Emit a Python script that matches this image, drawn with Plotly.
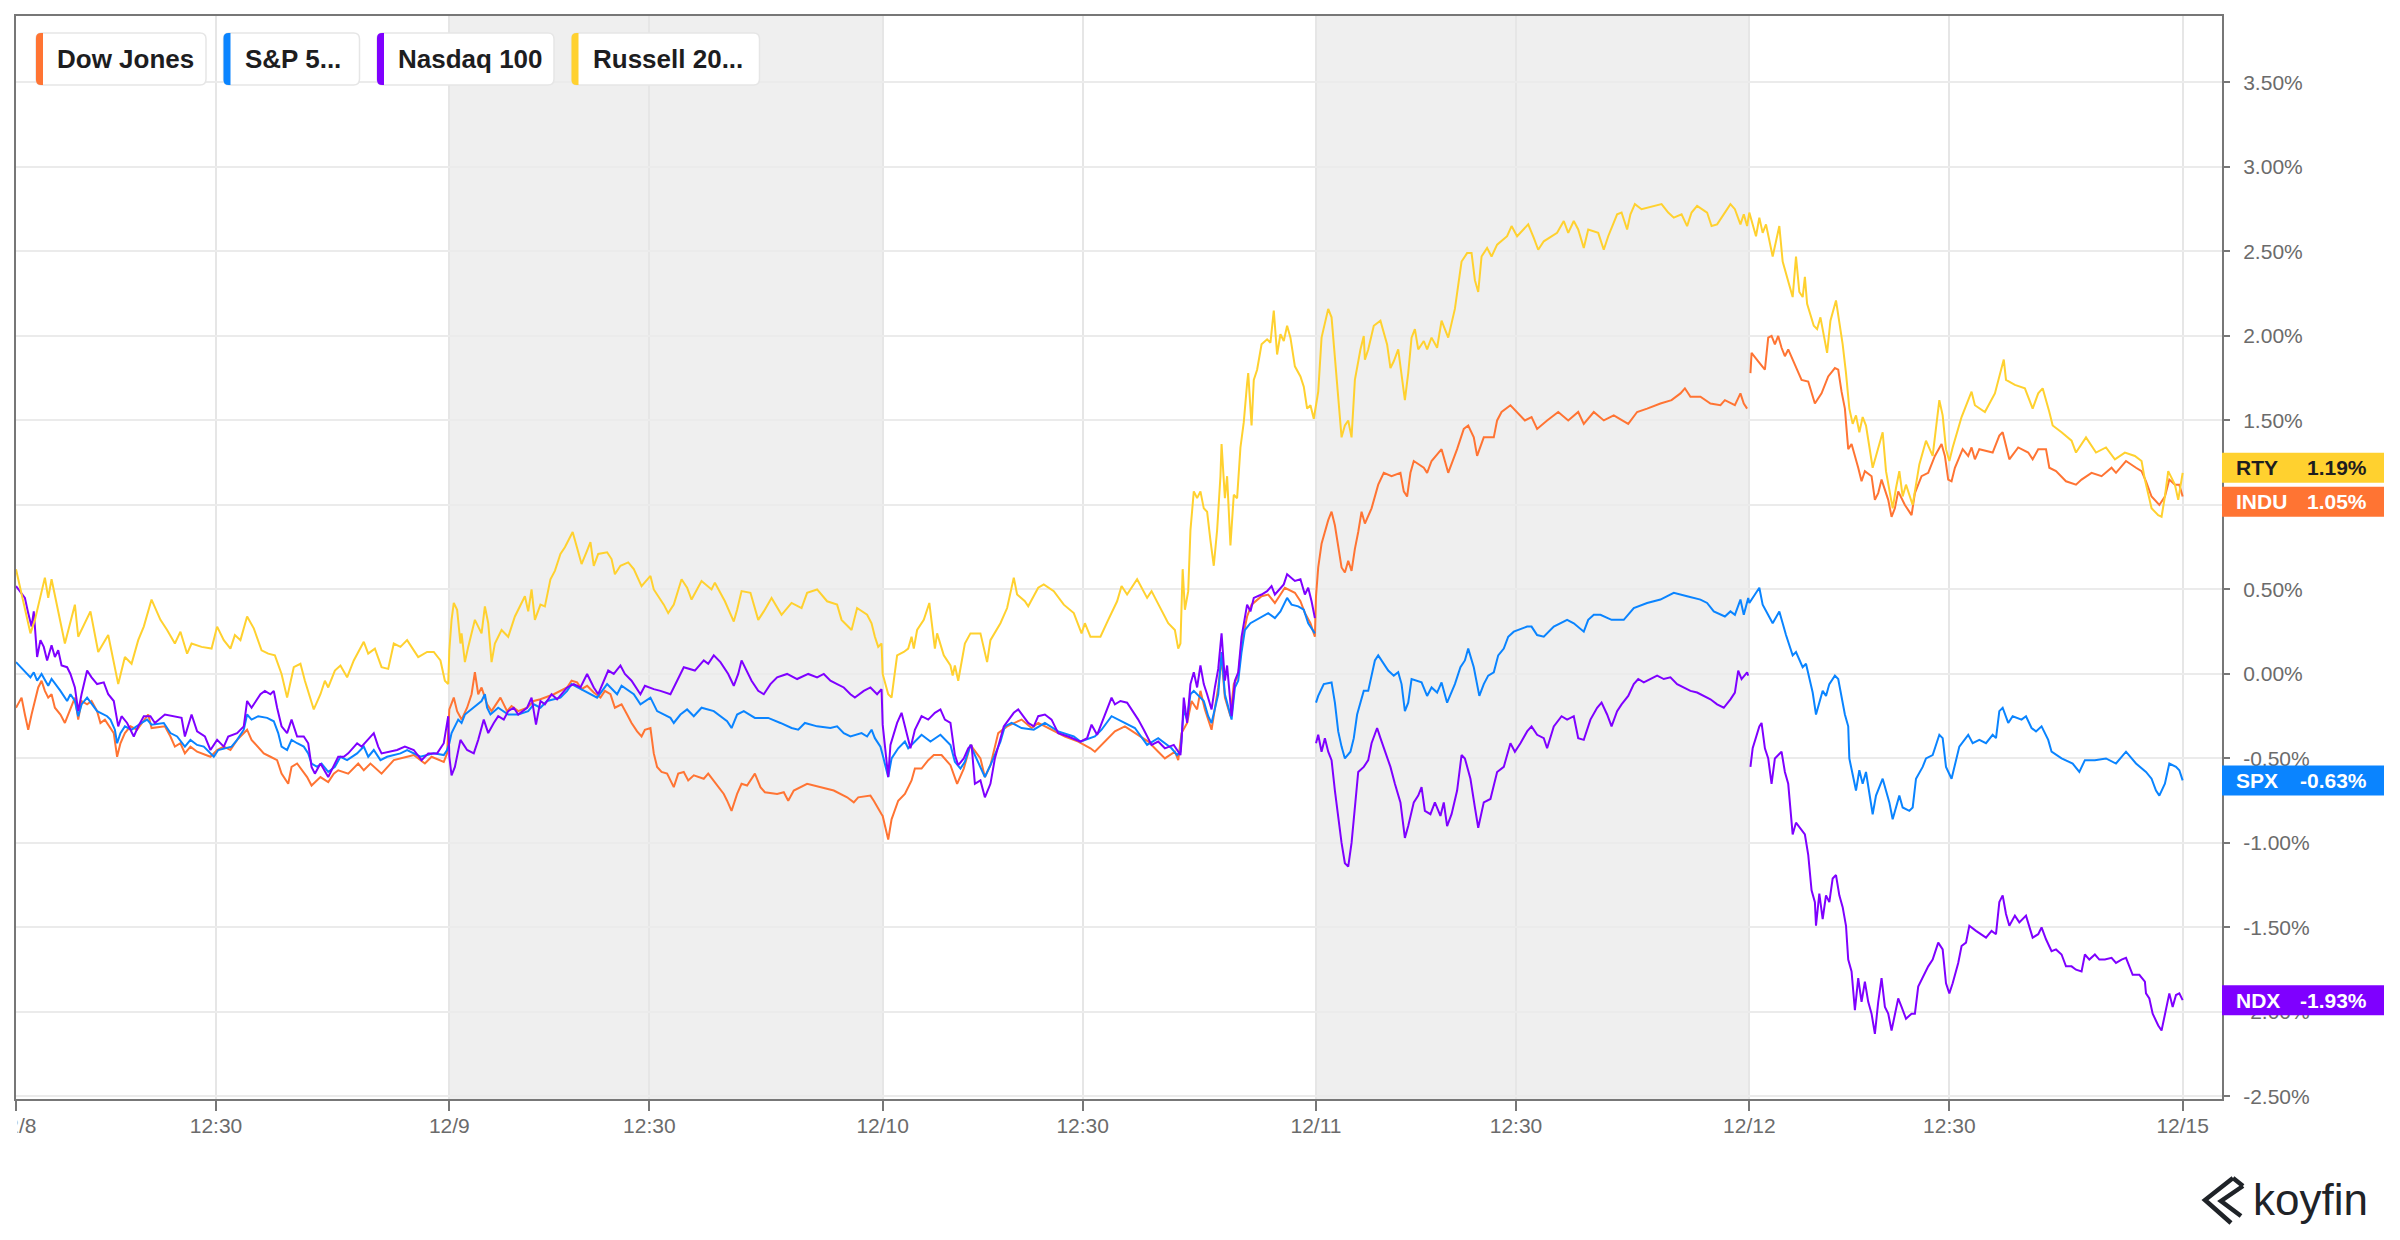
import plotly.graph_objects as go

# ---------------- data ----------------
X_TICK_VALS = [0, 180, 390, 570, 780, 960, 1170, 1350, 1560, 1740, 1950]
X_TICK_TEXT = ["12/8", "12:30", "12/9", "12:30", "12/10", "12:30", "12/11", "12:30", "12/12", "12:30", "12/15"]
Y_TICK_VALS = [-2.5, -2.0, -1.5, -1.0, -0.5, 0.0, 0.5, 1.0, 1.5, 2.0, 2.5, 3.0, 3.5]
Y_TICK_TEXT = ["-2.50%", "-2.00%", "-1.50%", "-1.00%", "-0.50%", "0.00%", "0.50%",
               "1.00%", "1.50%", "2.00%", "2.50%", "3.00%", "3.50%"]
SHADED_SESSIONS = [(390, 780), (1170, 1560)]

SERIES_NAMES = ["Dow Jones", "S&P 500", "Nasdaq 100", "Russell 2000"]
LEGEND_TEXT = ["Dow Jones", "S&P 5...", "Nasdaq 100", "Russell 20..."]
TICKERS = ["INDU", "SPX", "NDX", "RTY"]

# (trading minute since 12/8 09:30, % change); None = gap in data
DOW = [
    (0, -0.20), (5, -0.14), (8, -0.24), (11, -0.33), (14, -0.24), (20, -0.08), (23, -0.04), (26, -0.10),
    (29, -0.14), (32, -0.12), (35, -0.20), (40, -0.24), (44, -0.29), (47, -0.24), (53, -0.14), (56, -0.27),
    (59, -0.16), (64, -0.18), (68, -0.16), (73, -0.22), (76, -0.29), (80, -0.27), (88, -0.35), (91, -0.49),
    (94, -0.41), (98, -0.35), (103, -0.31), (109, -0.33), (119, -0.24), (122, -0.32), (134, -0.31), (139, -0.37),
    (143, -0.43), (148, -0.41), (152, -0.47), (157, -0.43), (163, -0.46), (175, -0.49), (181, -0.45), (187, -0.43),
    (193, -0.45), (199, -0.39), (208, -0.33), (212, -0.39), (223, -0.47), (229, -0.49), (235, -0.51), (239, -0.59),
    (245, -0.65), (248, -0.55), (253, -0.53), (262, -0.61), (266, -0.66), (274, -0.61), (281, -0.64), (286, -0.59),
    (290, -0.57), (299, -0.59), (308, -0.53), (313, -0.57), (319, -0.53), (329, -0.59), (340, -0.51), (352, -0.49),
    (358, -0.48), (368, -0.53), (374, -0.49), (385, -0.52), (388, -0.47),
    (390, -0.21), (394, -0.14), (397, -0.22), (401, -0.27), (406, -0.20), (410, -0.12), (413, 0.01), (416, -0.12),
    (419, -0.08), (424, -0.18), (428, -0.22), (436, -0.14), (442, -0.22), (446, -0.19), (452, -0.22), (460, -0.20),
    (466, -0.16), (472, -0.15), (484, -0.12), (496, -0.08), (500, -0.04), (505, -0.05), (509, -0.09), (514, -0.07),
    (520, -0.11), (526, -0.14), (530, -0.10), (535, -0.12), (539, -0.20), (545, -0.18), (550, -0.24), (554, -0.29),
    (559, -0.34), (563, -0.37), (566, -0.33), (571, -0.32), (574, -0.47), (577, -0.55), (581, -0.58), (586, -0.59),
    (592, -0.67), (596, -0.59), (601, -0.58), (605, -0.63), (610, -0.60), (619, -0.62), (623, -0.59), (632, -0.67),
    (637, -0.71), (640, -0.75), (644, -0.81), (649, -0.71), (653, -0.65), (658, -0.66), (665, -0.59), (670, -0.67),
    (674, -0.70), (685, -0.71), (691, -0.70), (695, -0.75), (700, -0.69), (712, -0.65), (724, -0.67), (736, -0.69),
    (748, -0.73), (754, -0.76), (758, -0.73), (769, -0.72), (772, -0.75), (776, -0.80), (779, -0.83),
    (780, -0.84), (785, -0.98), (788, -0.86), (794, -0.75), (800, -0.71), (806, -0.63), (809, -0.56), (815, -0.56),
    (821, -0.51), (826, -0.48), (833, -0.48), (841, -0.54), (847, -0.65), (853, -0.56), (859, -0.42), (868, -0.50),
    (872, -0.61), (877, -0.54), (884, -0.35), (892, -0.31), (905, -0.27), (914, -0.32), (920, -0.29), (932, -0.33),
    (944, -0.37), (956, -0.40), (967, -0.44), (971, -0.46), (980, -0.40), (989, -0.34), (998, -0.31), (1010, -0.36),
    (1019, -0.40), (1028, -0.46), (1034, -0.50), (1043, -0.46), (1046, -0.51), (1049, -0.35), (1054, -0.29),
    (1058, -0.16), (1063, -0.21), (1066, -0.10), (1070, -0.21), (1076, -0.33), (1079, -0.21), (1082, -0.08),
    (1085, 0.09), (1088, -0.14), (1093, -0.25), (1096, -0.06), (1100, -0.01), (1103, 0.18), (1108, 0.34),
    (1112, 0.41), (1121, 0.46), (1127, 0.47), (1133, 0.42), (1142, 0.51), (1151, 0.48), (1156, 0.43), (1160, 0.36),
    (1165, 0.30), (1169, 0.22),
    (1170, 0.46), (1172, 0.63), (1175, 0.77), (1181, 0.91), (1184, 0.96), (1187, 0.88), (1190, 0.74), (1193, 0.63),
    (1196, 0.60), (1199, 0.67), (1202, 0.61), (1205, 0.74), (1208, 0.84), (1211, 0.96), (1214, 0.89), (1220, 0.98),
    (1226, 1.12), (1231, 1.19), (1238, 1.17), (1246, 1.19), (1249, 1.08), (1252, 1.05), (1255, 1.19), (1258, 1.26),
    (1267, 1.22), (1270, 1.19), (1274, 1.26), (1283, 1.33), (1289, 1.19), (1297, 1.33), (1303, 1.45), (1307, 1.47),
    (1312, 1.40), (1315, 1.29), (1321, 1.40), (1330, 1.40), (1333, 1.50), (1337, 1.55), (1345, 1.59), (1354, 1.53),
    (1358, 1.50), (1364, 1.52), (1369, 1.45), (1378, 1.50), (1388, 1.55), (1397, 1.50), (1406, 1.55), (1411, 1.48),
    (1420, 1.55), (1429, 1.50), (1438, 1.53), (1451, 1.48), (1459, 1.55), (1468, 1.57), (1480, 1.60), (1490, 1.62),
    (1498, 1.66), (1502, 1.69), (1507, 1.64), (1516, 1.64), (1525, 1.60), (1534, 1.59), (1538, 1.62), (1547, 1.59),
    (1552, 1.66), (1555, 1.60), (1558, 1.57),
    (1559, None),
    (1561, 1.78), (1562, 1.90), (1568, 1.85), (1574, 1.80), (1577, 1.99), (1580, 2.00), (1583, 1.95), (1586, 2.00),
    (1589, 1.93), (1592, 1.88), (1595, 1.92), (1601, 1.83), (1607, 1.74), (1613, 1.73), (1619, 1.60), (1625, 1.66),
    (1631, 1.76), (1637, 1.81), (1640, 1.80), (1643, 1.67), (1646, 1.57), (1649, 1.33), (1652, 1.36), (1658, 1.22),
    (1661, 1.14), (1664, 1.20), (1670, 1.17), (1673, 1.03), (1676, 1.07), (1679, 1.15), (1685, 1.03), (1688, 0.93),
    (1691, 0.98), (1694, 1.08), (1700, 1.00), (1706, 0.94), (1709, 1.07), (1715, 1.17), (1721, 1.19), (1727, 1.29),
    (1733, 1.36), (1736, 1.29), (1739, 1.15), (1742, 1.14), (1745, 1.22), (1752, 1.33), (1757, 1.29), (1760, 1.34),
    (1763, 1.27), (1767, 1.33), (1779, 1.31), (1785, 1.41), (1788, 1.43), (1794, 1.27), (1802, 1.34), (1811, 1.31),
    (1815, 1.27), (1820, 1.33), (1827, 1.33), (1830, 1.22), (1836, 1.20), (1845, 1.14), (1854, 1.12), (1859, 1.15),
    (1868, 1.19), (1877, 1.17), (1886, 1.22), (1890, 1.19), (1899, 1.26), (1908, 1.22), (1913, 1.20), (1917, 1.14),
    (1922, 1.05), (1929, 1.00), (1934, 1.05), (1938, 1.15), (1943, 1.12), (1947, 1.12), (1950, 1.05),
]

SPX = [
    (0, 0.07), (7, 0.02), (13, -0.02), (16, 0.01), (19, -0.04), (23, 0.00), (29, -0.07), (32, -0.03), (40, -0.10),
    (46, -0.16), (49, -0.12), (53, -0.16), (56, -0.25), (59, -0.18), (64, -0.14), (73, -0.22), (82, -0.25),
    (85, -0.27), (89, -0.33), (91, -0.41), (94, -0.35), (98, -0.31), (104, -0.33), (113, -0.29), (118, -0.27),
    (122, -0.30), (133, -0.29), (139, -0.35), (145, -0.37), (152, -0.43), (157, -0.39), (163, -0.42), (169, -0.43),
    (178, -0.49), (182, -0.45), (194, -0.43), (199, -0.39), (205, -0.33), (208, -0.24), (212, -0.27), (218, -0.25),
    (226, -0.26), (232, -0.28), (236, -0.35), (239, -0.43), (244, -0.45), (248, -0.39), (253, -0.41), (259, -0.43),
    (263, -0.47), (266, -0.53), (271, -0.55), (275, -0.53), (281, -0.58), (287, -0.55), (292, -0.49), (298, -0.51),
    (307, -0.47), (313, -0.43), (317, -0.49), (322, -0.45), (328, -0.51), (334, -0.49), (346, -0.47), (352, -0.45),
    (364, -0.49), (376, -0.47), (385, -0.48), (388, -0.45),
    (390, -0.41), (392, -0.35), (398, -0.27), (401, -0.29), (404, -0.24), (412, -0.20), (419, -0.16), (422, -0.12),
    (424, -0.20), (427, -0.24), (434, -0.20), (443, -0.24), (452, -0.24), (461, -0.22), (466, -0.18), (472, -0.20),
    (478, -0.16), (490, -0.14), (496, -0.10), (500, -0.06), (509, -0.09), (518, -0.12), (523, -0.14), (532, -0.06),
    (541, -0.12), (545, -0.07), (556, -0.12), (562, -0.18), (571, -0.14), (577, -0.22), (589, -0.26), (592, -0.29),
    (598, -0.24), (604, -0.21), (610, -0.25), (617, -0.20), (628, -0.22), (640, -0.28), (644, -0.32), (649, -0.24),
    (655, -0.22), (665, -0.26), (677, -0.26), (688, -0.29), (698, -0.32), (704, -0.33), (710, -0.29), (721, -0.31),
    (733, -0.32), (739, -0.31), (745, -0.35), (751, -0.37), (761, -0.35), (766, -0.37), (770, -0.33), (773, -0.38),
    (778, -0.43),
    (780, -0.48), (785, -0.61), (788, -0.50), (794, -0.44), (800, -0.40), (803, -0.44), (815, -0.36), (823, -0.40),
    (832, -0.36), (841, -0.42), (845, -0.52), (850, -0.56), (854, -0.52), (859, -0.42), (863, -0.48), (872, -0.61),
    (877, -0.54), (886, -0.40), (890, -0.31), (896, -0.29), (905, -0.32), (916, -0.33), (926, -0.29), (938, -0.34),
    (952, -0.37), (958, -0.40), (971, -0.37), (977, -0.33), (986, -0.25), (995, -0.28), (1007, -0.32), (1018, -0.42),
    (1028, -0.38), (1040, -0.44), (1045, -0.48), (1048, -0.46), (1051, -0.21), (1054, -0.27), (1057, -0.12),
    (1060, -0.10), (1069, -0.16), (1073, -0.25), (1076, -0.29), (1082, -0.12), (1085, 0.13), (1088, -0.12),
    (1094, -0.27), (1097, -0.08), (1100, -0.04), (1103, 0.13), (1106, 0.26), (1111, 0.30), (1121, 0.34), (1127, 0.36),
    (1133, 0.33), (1138, 0.37), (1144, 0.45), (1148, 0.41), (1154, 0.40), (1159, 0.38), (1163, 0.30), (1169, 0.24),
    (1169.5, None),
    (1170, -0.17), (1172, -0.13), (1177, -0.06), (1184, -0.05), (1187, -0.17), (1190, -0.34), (1193, -0.43),
    (1196, -0.50), (1201, -0.46), (1204, -0.38), (1207, -0.24), (1213, -0.10), (1217, -0.10), (1220, -0.01),
    (1223, 0.08), (1226, 0.11), (1231, 0.06), (1235, 0.02), (1240, -0.01), (1244, 0.01), (1247, -0.06), (1250, -0.22),
    (1253, -0.17), (1256, -0.03), (1265, -0.05), (1270, -0.13), (1274, -0.08), (1279, -0.11), (1283, -0.05),
    (1288, -0.17), (1295, -0.06), (1300, 0.04), (1304, 0.08), (1307, 0.15), (1312, 0.04), (1317, -0.13),
    (1321, -0.06), (1325, -0.01), (1330, 0.01), (1334, 0.11), (1339, 0.15), (1343, 0.22), (1348, 0.25), (1360, 0.28),
    (1364, 0.28), (1369, 0.23), (1375, 0.22), (1384, 0.28), (1396, 0.32), (1402, 0.30), (1411, 0.25), (1415, 0.32),
    (1420, 0.35), (1426, 0.35), (1436, 0.32), (1447, 0.32), (1456, 0.39), (1468, 0.42), (1480, 0.44), (1492, 0.48),
    (1504, 0.46), (1516, 0.44), (1522, 0.42), (1528, 0.37), (1538, 0.34), (1543, 0.37), (1547, 0.35), (1552, 0.44),
    (1555, 0.35), (1559, 0.45),
    (1560, 0.42), (1566, 0.48), (1569, 0.51), (1572, 0.41), (1578, 0.34), (1581, 0.30), (1587, 0.37), (1593, 0.23),
    (1599, 0.11), (1602, 0.13), (1608, 0.04), (1611, 0.06), (1617, -0.11), (1620, -0.24), (1626, -0.10),
    (1629, -0.13), (1632, -0.06), (1637, -0.01), (1640, -0.03), (1646, -0.24), (1649, -0.31), (1650, -0.50),
    (1656, -0.69), (1659, -0.57), (1662, -0.65), (1665, -0.58), (1671, -0.83), (1674, -0.72), (1680, -0.62),
    (1686, -0.76), (1689, -0.86), (1695, -0.72), (1698, -0.79), (1704, -0.81), (1707, -0.79), (1710, -0.62),
    (1716, -0.55), (1719, -0.50), (1725, -0.48), (1731, -0.36), (1734, -0.38), (1737, -0.55), (1742, -0.62),
    (1745, -0.53), (1749, -0.43), (1757, -0.36), (1761, -0.41), (1767, -0.39), (1773, -0.41), (1779, -0.36),
    (1782, -0.38), (1785, -0.22), (1788, -0.20), (1793, -0.29), (1797, -0.25), (1805, -0.27), (1809, -0.25),
    (1814, -0.32), (1818, -0.34), (1823, -0.31), (1829, -0.39), (1832, -0.46), (1841, -0.50), (1851, -0.53),
    (1857, -0.58), (1862, -0.51), (1871, -0.51), (1881, -0.50), (1890, -0.53), (1899, -0.46), (1908, -0.53),
    (1917, -0.58), (1922, -0.62), (1926, -0.69), (1929, -0.72), (1934, -0.65), (1938, -0.53), (1944, -0.55),
    (1947, -0.57), (1950, -0.63),
]

NDX = [
    (0, 0.52), (8, 0.45), (11, 0.36), (14, 0.28), (16, 0.37), (19, 0.10), (22, 0.20), (25, 0.16), (28, 0.08),
    (32, 0.17), (35, 0.10), (38, 0.14), (41, 0.05), (46, 0.04), (49, 0.00), (53, -0.08), (56, -0.22), (59, -0.12),
    (64, 0.02), (68, -0.02), (73, -0.06), (79, -0.05), (83, -0.12), (88, -0.16), (92, -0.31), (95, -0.25),
    (100, -0.29), (106, -0.37), (110, -0.31), (115, -0.25), (121, -0.25), (125, -0.29), (134, -0.24), (142, -0.25),
    (149, -0.26), (152, -0.37), (158, -0.24), (163, -0.34), (170, -0.37), (175, -0.45), (181, -0.39), (187, -0.43),
    (191, -0.37), (199, -0.35), (205, -0.31), (208, -0.16), (212, -0.20), (220, -0.12), (224, -0.10), (229, -0.12),
    (232, -0.10), (235, -0.20), (239, -0.31), (244, -0.35), (248, -0.27), (253, -0.37), (259, -0.37), (263, -0.41),
    (266, -0.55), (269, -0.59), (274, -0.53), (281, -0.61), (284, -0.57), (290, -0.49), (295, -0.49), (299, -0.47),
    (307, -0.41), (311, -0.43), (322, -0.35), (326, -0.43), (329, -0.47), (343, -0.45), (350, -0.43), (358, -0.45),
    (365, -0.51), (371, -0.47), (379, -0.47), (385, -0.41), (389, -0.25),
    (390, -0.49), (392, -0.60), (395, -0.55), (400, -0.39), (406, -0.45), (412, -0.47), (416, -0.39), (421, -0.27),
    (425, -0.35), (430, -0.29), (434, -0.25), (439, -0.27), (443, -0.22), (448, -0.20), (452, -0.24), (460, -0.20),
    (464, -0.14), (468, -0.30), (472, -0.16), (476, -0.18), (482, -0.12), (487, -0.15), (496, -0.08), (502, -0.06),
    (508, -0.08), (514, 0.00), (520, -0.08), (524, -0.12), (529, -0.04), (533, 0.02), (538, 0.00), (544, 0.05),
    (548, 0.00), (554, -0.04), (562, -0.12), (566, -0.07), (574, -0.09), (580, -0.10), (589, -0.12), (595, -0.04),
    (601, 0.04), (611, 0.02), (619, 0.08), (623, 0.06), (628, 0.11), (634, 0.07), (641, 0.00), (646, -0.07),
    (650, 0.00), (653, 0.08), (656, 0.04), (662, -0.04), (668, -0.10), (673, -0.12), (679, -0.06), (685, -0.02),
    (694, 0.00), (703, -0.03), (713, 0.00), (721, -0.02), (727, 0.00), (733, -0.04), (739, -0.06), (745, -0.08),
    (751, -0.12), (755, -0.14), (763, -0.10), (769, -0.08), (775, -0.12), (779, -0.09),
    (780, -0.30), (782, -0.42), (785, -0.61), (787, -0.42), (793, -0.29), (797, -0.23), (800, -0.31), (805, -0.44),
    (809, -0.33), (815, -0.25), (821, -0.27), (827, -0.23), (832, -0.21), (836, -0.27), (841, -0.29), (845, -0.48),
    (848, -0.54), (853, -0.50), (857, -0.44), (860, -0.42), (863, -0.65), (868, -0.63), (872, -0.73), (877, -0.65),
    (881, -0.50), (889, -0.31), (898, -0.23), (902, -0.21), (911, -0.29), (916, -0.31), (920, -0.25), (926, -0.24),
    (932, -0.27), (938, -0.35), (947, -0.37), (958, -0.40), (964, -0.38), (968, -0.30), (973, -0.36), (982, -0.21),
    (986, -0.14), (989, -0.18), (994, -0.16), (1000, -0.17), (1004, -0.21), (1010, -0.27), (1015, -0.33),
    (1022, -0.42), (1028, -0.40), (1034, -0.44), (1042, -0.42), (1048, -0.48), (1049, -0.40), (1051, -0.14),
    (1054, -0.29), (1057, -0.06), (1060, 0.01), (1063, -0.08), (1066, 0.05), (1069, -0.06), (1072, -0.12),
    (1076, -0.21), (1079, -0.08), (1082, 0.03), (1085, 0.24), (1088, -0.04), (1090, 0.05), (1093, -0.21),
    (1094, -0.25), (1097, -0.04), (1100, 0.01), (1103, 0.22), (1108, 0.41), (1111, 0.37), (1114, 0.45), (1121, 0.47),
    (1126, 0.49), (1130, 0.52), (1133, 0.47), (1141, 0.53), (1144, 0.59), (1151, 0.55), (1156, 0.56), (1160, 0.47),
    (1163, 0.51), (1166, 0.43), (1169, 0.33),
    (1169.5, None),
    (1170, -0.41), (1172, -0.36), (1175, -0.46), (1178, -0.38), (1181, -0.46), (1184, -0.51), (1187, -0.69),
    (1190, -0.86), (1193, -1.00), (1196, -1.12), (1199, -1.14), (1202, -1.00), (1205, -0.79), (1208, -0.58),
    (1213, -0.55), (1217, -0.51), (1220, -0.41), (1225, -0.32), (1228, -0.38), (1231, -0.44), (1237, -0.55),
    (1241, -0.65), (1246, -0.76), (1250, -0.97), (1253, -0.90), (1258, -0.76), (1262, -0.72), (1265, -0.67),
    (1268, -0.81), (1273, -0.83), (1277, -0.76), (1282, -0.84), (1285, -0.76), (1288, -0.90), (1292, -0.83),
    (1297, -0.69), (1301, -0.48), (1304, -0.50), (1309, -0.62), (1313, -0.79), (1316, -0.91), (1321, -0.76),
    (1327, -0.74), (1333, -0.58), (1339, -0.55), (1345, -0.41), (1349, -0.46), (1354, -0.41), (1360, -0.34),
    (1364, -0.31), (1369, -0.36), (1375, -0.38), (1378, -0.44), (1384, -0.31), (1391, -0.25), (1396, -0.27),
    (1402, -0.25), (1406, -0.38), (1411, -0.39), (1417, -0.27), (1423, -0.20), (1427, -0.17), (1432, -0.24),
    (1436, -0.31), (1441, -0.22), (1445, -0.18), (1451, -0.13), (1456, -0.06), (1460, -0.03), (1465, -0.05),
    (1471, -0.03), (1477, -0.01), (1483, -0.03), (1489, -0.02), (1495, -0.06), (1501, -0.08), (1507, -0.10),
    (1513, -0.11), (1519, -0.13), (1525, -0.15), (1531, -0.18), (1537, -0.20), (1543, -0.15), (1547, -0.11),
    (1550, 0.02), (1553, -0.03), (1558, 0.01), (1559, -0.01),
    (1560, None),
    (1561, -0.55), (1563, -0.44), (1569, -0.31), (1571, -0.29), (1574, -0.44), (1577, -0.50), (1580, -0.65),
    (1583, -0.50), (1589, -0.46), (1592, -0.58), (1595, -0.65), (1598, -0.86), (1599, -0.95), (1602, -0.88),
    (1610, -0.95), (1613, -1.07), (1616, -1.28), (1619, -1.35), (1620, -1.49), (1623, -1.30), (1626, -1.45),
    (1629, -1.31), (1632, -1.35), (1635, -1.21), (1638, -1.19), (1641, -1.31), (1644, -1.38), (1647, -1.49),
    (1649, -1.69), (1652, -1.76), (1655, -1.99), (1658, -1.80), (1661, -1.94), (1664, -1.82), (1667, -1.94),
    (1670, -2.01), (1673, -2.13), (1676, -1.94), (1679, -1.80), (1682, -1.97), (1685, -2.01), (1688, -2.11),
    (1691, -2.01), (1694, -1.92), (1697, -1.97), (1701, -2.04), (1706, -2.01), (1709, -2.01), (1712, -1.85),
    (1716, -1.80), (1721, -1.73), (1725, -1.69), (1730, -1.59), (1734, -1.63), (1737, -1.83), (1740, -1.89),
    (1743, -1.83), (1748, -1.71), (1751, -1.61), (1755, -1.59), (1758, -1.49), (1764, -1.52), (1769, -1.54),
    (1773, -1.56), (1778, -1.52), (1782, -1.54), (1785, -1.35), (1788, -1.31), (1791, -1.42), (1794, -1.49),
    (1799, -1.43), (1803, -1.47), (1809, -1.43), (1815, -1.56), (1820, -1.54), (1823, -1.50), (1827, -1.57),
    (1832, -1.64), (1836, -1.63), (1841, -1.66), (1845, -1.73), (1850, -1.73), (1854, -1.75), (1859, -1.76),
    (1862, -1.66), (1866, -1.69), (1871, -1.66), (1875, -1.69), (1880, -1.69), (1886, -1.68), (1890, -1.71),
    (1895, -1.69), (1899, -1.68), (1905, -1.78), (1911, -1.78), (1916, -1.82), (1917, -1.89), (1920, -1.92),
    (1923, -2.01), (1928, -2.08), (1931, -2.11), (1934, -2.01), (1938, -1.89), (1941, -1.97), (1944, -1.90),
    (1947, -1.89), (1950, -1.93),
]

RTY = [
    (0, 0.62), (11, 0.30), (13, 0.24), (17, 0.32), (26, 0.57), (29, 0.45), (32, 0.56), (44, 0.18), (53, 0.41),
    (56, 0.22), (67, 0.37), (74, 0.13), (83, 0.23), (92, -0.06), (98, 0.10), (104, 0.06), (110, 0.20), (115, 0.28),
    (122, 0.44), (130, 0.32), (136, 0.26), (143, 0.18), (148, 0.25), (154, 0.12), (158, 0.18), (167, 0.16),
    (176, 0.15), (181, 0.28), (187, 0.20), (193, 0.15), (197, 0.23), (202, 0.20), (208, 0.34), (214, 0.27),
    (221, 0.14), (227, 0.12), (233, 0.11), (239, 0.00), (244, -0.14), (250, 0.04), (256, 0.06), (260, -0.04),
    (268, -0.21), (274, -0.12), (278, -0.04), (281, -0.08), (287, 0.02), (292, 0.05), (298, -0.02), (304, 0.08),
    (313, 0.19), (317, 0.12), (323, 0.15), (329, 0.04), (335, 0.03), (340, 0.18), (346, 0.16), (352, 0.20),
    (358, 0.14), (362, 0.10), (370, 0.13), (376, 0.13), (382, 0.08), (386, -0.04), (389, -0.06),
    (390, 0.14), (392, 0.32), (394, 0.42), (397, 0.38), (400, 0.18), (401, 0.24), (404, 0.07), (407, 0.16),
    (413, 0.32), (419, 0.24), (422, 0.40), (425, 0.30), (428, 0.07), (431, 0.18), (437, 0.26), (443, 0.22),
    (449, 0.34), (458, 0.46), (461, 0.37), (464, 0.50), (467, 0.32), (472, 0.41), (476, 0.40), (481, 0.56),
    (485, 0.61), (490, 0.71), (494, 0.75), (501, 0.84), (505, 0.75), (509, 0.65), (514, 0.73), (517, 0.78),
    (520, 0.64), (524, 0.71), (532, 0.72), (536, 0.68), (539, 0.59), (544, 0.64), (551, 0.66), (556, 0.62),
    (563, 0.52), (571, 0.58), (574, 0.50), (583, 0.41), (587, 0.36), (592, 0.41), (599, 0.56), (604, 0.51),
    (608, 0.44), (617, 0.55), (626, 0.50), (629, 0.54), (638, 0.43), (646, 0.31), (649, 0.38), (653, 0.49),
    (661, 0.48), (668, 0.32), (673, 0.37), (680, 0.45), (689, 0.35), (698, 0.42), (707, 0.39), (712, 0.48),
    (721, 0.50), (730, 0.43), (739, 0.41), (743, 0.32), (752, 0.26), (757, 0.39), (766, 0.35), (770, 0.30),
    (773, 0.22), (776, 0.16), (779, 0.18),
    (780, 0.00), (785, -0.12), (788, -0.14), (790, -0.04), (793, 0.11), (799, 0.13), (803, 0.15), (806, 0.22),
    (808, 0.15), (811, 0.26), (817, 0.32), (822, 0.42), (824, 0.30), (827, 0.15), (829, 0.24), (835, 0.11),
    (841, 0.05), (843, -0.01), (845, 0.05), (848, -0.04), (854, 0.18), (859, 0.24), (868, 0.24), (874, 0.07),
    (877, 0.20), (886, 0.30), (892, 0.39), (895, 0.49), (898, 0.57), (901, 0.47), (908, 0.43), (911, 0.40),
    (920, 0.51), (925, 0.53), (934, 0.49), (943, 0.41), (952, 0.36), (959, 0.24), (962, 0.30), (967, 0.22),
    (976, 0.22), (983, 0.32), (991, 0.43), (995, 0.52), (1000, 0.47), (1009, 0.56), (1018, 0.45), (1022, 0.49),
    (1031, 0.38), (1037, 0.30), (1043, 0.26), (1046, 0.15), (1048, 0.18), (1050, 0.62), (1052, 0.38), (1055, 0.49),
    (1057, 0.85), (1060, 1.08), (1063, 1.04), (1066, 1.08), (1069, 0.98), (1072, 0.96), (1075, 0.79), (1078, 0.64),
    (1081, 0.85), (1084, 1.17), (1085, 1.36), (1088, 1.04), (1090, 1.17), (1093, 0.76), (1096, 1.06), (1099, 1.04),
    (1102, 1.34), (1105, 1.49), (1108, 1.72), (1109, 1.78), (1112, 1.47), (1114, 1.74), (1117, 1.80), (1121, 1.95),
    (1126, 1.98), (1129, 1.96), (1132, 2.15), (1135, 1.89), (1138, 2.01), (1141, 1.97), (1144, 2.06), (1147, 1.99),
    (1151, 1.82), (1156, 1.76), (1159, 1.70), (1162, 1.57), (1165, 1.59), (1168, 1.51),
    (1170, 1.59), (1172, 1.67), (1175, 1.99), (1181, 2.16), (1184, 2.11), (1187, 1.88), (1190, 1.60), (1193, 1.40),
    (1196, 1.47), (1199, 1.50), (1202, 1.40), (1205, 1.74), (1210, 1.92), (1213, 2.00), (1214, 1.86), (1217, 1.92),
    (1222, 2.06), (1228, 2.09), (1234, 1.95), (1237, 1.81), (1240, 1.85), (1244, 1.92), (1250, 1.62), (1253, 1.78),
    (1256, 1.99), (1259, 2.04), (1262, 1.92), (1267, 1.97), (1270, 1.92), (1274, 1.99), (1279, 1.93), (1283, 2.09),
    (1289, 1.99), (1295, 2.16), (1298, 2.30), (1301, 2.44), (1306, 2.49), (1310, 2.49), (1313, 2.33), (1316, 2.26),
    (1319, 2.47), (1324, 2.52), (1328, 2.47), (1333, 2.54), (1342, 2.59), (1346, 2.65), (1351, 2.59), (1361, 2.66),
    (1366, 2.58), (1370, 2.51), (1375, 2.56), (1387, 2.61), (1393, 2.68), (1397, 2.61), (1402, 2.68), (1406, 2.63),
    (1411, 2.52), (1415, 2.63), (1424, 2.61), (1429, 2.51), (1433, 2.59), (1441, 2.72), (1445, 2.73), (1450, 2.63),
    (1453, 2.72), (1457, 2.78), (1463, 2.75), (1475, 2.77), (1481, 2.78), (1487, 2.73), (1492, 2.70), (1499, 2.72),
    (1504, 2.65), (1508, 2.73), (1513, 2.77), (1522, 2.73), (1526, 2.65), (1531, 2.66), (1537, 2.72), (1543, 2.78),
    (1547, 2.75), (1552, 2.66), (1555, 2.72), (1558, 2.65),
    (1560, 2.73), (1566, 2.59), (1569, 2.70), (1572, 2.61), (1575, 2.66), (1581, 2.47), (1587, 2.65), (1590, 2.44),
    (1596, 2.30), (1599, 2.23), (1602, 2.47), (1605, 2.26), (1608, 2.23), (1610, 2.35), (1612, 2.19), (1618, 2.06),
    (1621, 2.04), (1624, 2.11), (1630, 1.90), (1633, 2.09), (1638, 2.21), (1641, 2.09), (1644, 1.95), (1647, 1.78),
    (1650, 1.57), (1653, 1.48), (1656, 1.53), (1659, 1.43), (1662, 1.52), (1665, 1.47), (1671, 1.22), (1674, 1.29),
    (1680, 1.43), (1683, 1.20), (1689, 0.98), (1692, 1.10), (1695, 1.20), (1698, 1.05), (1701, 1.12), (1707, 1.00),
    (1713, 1.24), (1719, 1.38), (1725, 1.29), (1731, 1.62), (1734, 1.53), (1737, 1.33), (1740, 1.26), (1743, 1.34),
    (1751, 1.52), (1757, 1.62), (1760, 1.67), (1763, 1.59), (1772, 1.55), (1781, 1.66), (1789, 1.86), (1791, 1.74),
    (1799, 1.71), (1808, 1.69), (1815, 1.57), (1820, 1.66), (1824, 1.69), (1830, 1.55), (1833, 1.47), (1841, 1.43),
    (1850, 1.38), (1854, 1.31), (1863, 1.40), (1872, 1.31), (1881, 1.34), (1889, 1.27), (1898, 1.31), (1907, 1.29),
    (1913, 1.26), (1916, 1.15), (1922, 0.98), (1928, 0.94), (1931, 0.93), (1934, 1.05), (1937, 1.20), (1943, 1.12),
    (1946, 1.03), (1950, 1.19),
]

SERIES = [DOW, SPX, NDX, RTY]

# ---------------- styling / layout ----------------
COLORS = ["#ff7433", "#0a84ff", "#7f00ff", "#ffd12f"]
LABEL_TEXT_COLORS = ["#ffffff", "#ffffff", "#ffffff", "#1d1d1f"]
FONT = "Liberation Sans, Arial, Helvetica, sans-serif"

PAGE_W, PAGE_H = 2400, 1240
BODY_MARGIN = 8                           # default browser body margin around the plot div
W, H = PAGE_W - BODY_MARGIN, PAGE_H - BODY_MARGIN
L, R, T, B = 16, 2222, 16, 1099          # plot area in page pixels
X_RANGE = [0, 1985.4]
Y_RANGE = [-2.515, 3.893]


def px_x(p):
    return (p - L) / (R - L)


def px_y(p):
    return (B - p) / (B - T)


def val_py(v):
    return B - (v - Y_RANGE[0]) / (Y_RANGE[1] - Y_RANGE[0]) * (B - T)


def rounded_rect(x0, y0, x1, y1, r, left_only=False):
    """SVG path (paper coords) of a rectangle given in page pixels, y0 top, y1 bottom."""
    rr = 0 if left_only else r
    rl = r
    pts = [f"M {px_x(x0 + rl)} {px_y(y0)}", f"L {px_x(x1 - rr)} {px_y(y0)}"]
    if rr:
        pts.append(f"Q {px_x(x1)} {px_y(y0)} {px_x(x1)} {px_y(y0 + rr)}")
    pts.append(f"L {px_x(x1)} {px_y(y1 - rr)}")
    if rr:
        pts.append(f"Q {px_x(x1)} {px_y(y1)} {px_x(x1 - rr)} {px_y(y1)}")
    pts += [f"L {px_x(x0 + rl)} {px_y(y1)}",
            f"Q {px_x(x0)} {px_y(y1)} {px_x(x0)} {px_y(y1 - rl)}",
            f"L {px_x(x0)} {px_y(y0 + rl)}",
            f"Q {px_x(x0)} {px_y(y0)} {px_x(x0 + rl)} {px_y(y0)}", "Z"]
    return " ".join(pts)


fig = go.Figure()

for name, data, color in zip(SERIES_NAMES, SERIES, COLORS):
    fig.add_trace(go.Scatter(
        x=[p[0] for p in data], y=[p[1] for p in data], mode="lines", name=name,
        line=dict(color=color, width=2), connectgaps=False, hoverinfo="skip", showlegend=False,
    ))

shapes = []
annotations = []

# shaded alternate sessions
for a, b in SHADED_SESSIONS:
    shapes.append(dict(type="rect", xref="x", yref="paper", x0=a, x1=b, y0=0, y1=1,
                       fillcolor="#efefef", line=dict(width=0), layer="below"))

# zero line
shapes.append(dict(type="line", xref="paper", yref="y", x0=0, x1=1, y0=0, y1=0,
                   line=dict(color="#4d4d4d", width=2, dash="5px,3px"), layer="between"))

# legend chips
LEG_X0 = 36
LEG_W = [170, 136, 177, 188]
LEG_GAP = 17.5
LEG_TOP, LEG_BOT = 33, 85
x = LEG_X0
for txt, color, w in zip(LEGEND_TEXT, COLORS, LEG_W):
    shapes.append(dict(type="path", xref="paper", yref="paper",
                       path=rounded_rect(x, LEG_TOP, x + w, LEG_BOT, 6),
                       fillcolor="#ffffff", line=dict(color="#e6e6e6", width=1.5), layer="above"))
    shapes.append(dict(type="path", xref="paper", yref="paper",
                       path=rounded_rect(x, LEG_TOP, x + 7, LEG_BOT, 5, left_only=True),
                       fillcolor=color, line=dict(width=0), layer="above"))
    annotations.append(dict(xref="paper", yref="paper", x=px_x(x + 19), y=px_y((LEG_TOP + LEG_BOT) / 2),
                            xanchor="left", yanchor="middle", showarrow=False, text=txt,
                            font=dict(family=FONT, size=26, color="#1d1d1f", weight=700)))
    x += w + LEG_GAP

# last-value labels on the right axis (with overlap avoidance)
last_vals = [[p[1] for p in s if p[1] is not None][-1] for s in SERIES]
centers = [val_py(v) for v in last_vals]
order = sorted(range(len(centers)), key=lambda i: centers[i])
MIN_SEP = 34
for _ in range(100):
    moved = False
    for a, b in zip(order, order[1:]):
        d = centers[b] - centers[a]
        if d < MIN_SEP - 1e-6:
            s = (MIN_SEP - d) / 2
            centers[a] -= s
            centers[b] += s
            moved = True
    if not moved:
        break

BOX_X0, BOX_X1, BOX_H = 2222, 2384, 30
for tick, v, c, color, tcol in zip(TICKERS, last_vals, centers, COLORS, LABEL_TEXT_COLORS):
    shapes.append(dict(type="rect", xref="paper", yref="paper",
                       x0=px_x(BOX_X0), x1=px_x(BOX_X1), y0=px_y(c + BOX_H / 2), y1=px_y(c - BOX_H / 2),
                       fillcolor=color, line=dict(width=0), layer="above"))
    annotations.append(dict(xref="paper", yref="paper", x=px_x(BOX_X0 + 12), y=px_y(c),
                            xanchor="left", yanchor="middle", showarrow=False, text=tick,
                            font=dict(family=FONT, size=21, color=tcol, weight=700)))
    annotations.append(dict(xref="paper", yref="paper", x=px_x(BOX_X1 - 15), y=px_y(c),
                            xanchor="right", yanchor="middle", showarrow=False, text=f"{v:.2f}%",
                            font=dict(family=FONT, size=21, color=tcol, weight=700)))

# mask clipping the first date label at the plot's left edge (as in the source image)
shapes.append(dict(type="rect", xref="paper", yref="paper", x0=px_x(-20), x1=px_x(17.5),
                   y0=px_y(1160), y1=px_y(1111), fillcolor="#ffffff", line=dict(width=0), layer="above"))

# koyfin logo
LOGO_COLOR = "#1f2328"
shapes.append(dict(type="path", xref="paper", yref="paper",
                   path=f"M {px_x(2233)} {px_y(1178)} L {px_x(2205)} {px_y(1200)} L {px_x(2231)} {px_y(1223)}",
                   line=dict(color=LOGO_COLOR, width=4.5), layer="above"))
shapes.append(dict(type="path", xref="paper", yref="paper",
                   path=f"M {px_x(2243)} {px_y(1186)} L {px_x(2221)} {px_y(1201)} L {px_x(2241)} {px_y(1216)}",
                   line=dict(color=LOGO_COLOR, width=4.5), layer="above"))
shapes.append(dict(type="path", xref="paper", yref="paper",
                   path=f"M {px_x(2233)} {px_y(1178)} L {px_x(2243)} {px_y(1186)}",
                   line=dict(color=LOGO_COLOR, width=4.5), layer="above"))
annotations.append(dict(xref="paper", yref="paper", x=px_x(2251), y=px_y(1199),
                        xanchor="left", yanchor="middle", showarrow=False, text="koyfin",
                        font=dict(family=FONT, size=44, color=LOGO_COLOR)))

axis_font = dict(family=FONT, size=21, color="#6b6b6b")

fig.update_layout(
    width=W, height=H,
    margin=dict(l=L - BODY_MARGIN, r=W - (R - BODY_MARGIN), t=T - BODY_MARGIN, b=H - (B - BODY_MARGIN),
                autoexpand=False),
    paper_bgcolor="#ffffff", plot_bgcolor="#ffffff",
    showlegend=False,
    shapes=shapes, annotations=annotations,
    xaxis=dict(range=X_RANGE, tickmode="array", tickvals=X_TICK_VALS, ticktext=X_TICK_TEXT,
               showgrid=True, gridcolor="#e6e6e6", gridwidth=2, zeroline=False,
               showline=True, linecolor="#777777", linewidth=2, mirror=True,
               ticks="outside", ticklen=10, tickwidth=2, tickcolor="#777777",
               ticklabelstandoff=-3, ticklabeloverflow="allow", tickfont=axis_font, fixedrange=True),
    yaxis=dict(range=Y_RANGE, side="right", tickmode="array", tickvals=Y_TICK_VALS, ticktext=Y_TICK_TEXT,
               showgrid=True, gridcolor="#ebebeb", gridwidth=2, zeroline=False,
               showline=True, linecolor="#777777", linewidth=2, mirror=True,
               ticks="outside", ticklen=6, tickwidth=2, tickcolor="#777777",
               ticklabelstandoff=9, tickfont=axis_font, fixedrange=True),
)

fig.write_html("out.html", config={"displayModeBar": False})
